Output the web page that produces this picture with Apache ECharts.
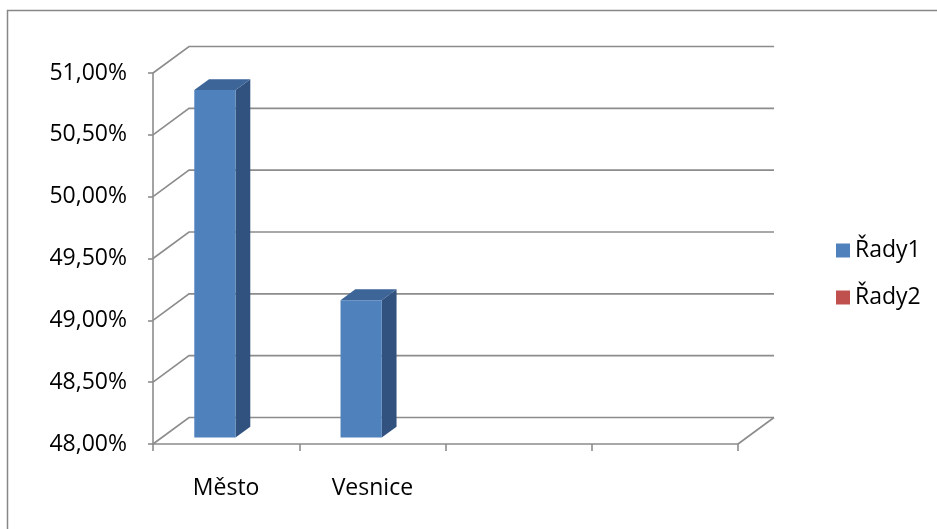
<!DOCTYPE html>
<html>
<head>
<meta charset="utf-8">
<script src="https://cdn.jsdelivr.net/npm/echarts@6/dist/echarts.min.js"></script>
<style>
  html, body { margin: 0; padding: 0; background: #fff; }
  #chart { width: 937px; height: 529px; }
</style>
</head>
<body>
<div id="chart"></div>
<script>
// Categories along the floor (two slots stay empty)
var categories = ['Město', 'Vesnice', '', ''];
// Series values, in percent
var rady1 = [50.81, 49.11];
var rady2 = [];
// Value axis ticks
var yTicks = [48, 48.5, 49, 49.5, 50, 50.5, 51];
var seriesNames = ['Řady1', 'Řady2'];

// Oblique depth of the 3D box and placement of a bar inside its slot
var DEPTH = { dx: 36, dy: -26.5 };
var BAR = { offset: 0.222, width: 0.282, front: 0.245, back: 0.655 };
var GRID_COLOR = '#8c8c8c';
var FONT = 'Open Sans';
var FONT_SIZE = 23;

function fmtPct(v) {
  return v.toFixed(2).replace('.', ',') + '%';
}

// Back wall and floor lines for each tick value
function renderWalls(params, api) {
  var cs = params.coordSys;
  var x0 = cs.x, x1 = cs.x + cs.width;
  var v = api.value(0);
  var y = api.coord([0, v])[1];
  var children = [{
    type: 'polyline',
    shape: { points: [[x0, y], [x0 + DEPTH.dx, y + DEPTH.dy], [x1 + DEPTH.dx, y + DEPTH.dy]] },
    style: { stroke: GRID_COLOR, lineWidth: 1.6, fill: null }
  }];
  if (v === yTicks[0]) {
    children.push({
      type: 'line',
      shape: { x1: x1, y1: y, x2: x1 + DEPTH.dx, y2: y + DEPTH.dy },
      style: { stroke: GRID_COLOR, lineWidth: 1.6 }
    });
  }
  return { type: 'group', children: children };
}

// 3D column: front face, top and right side
function renderColumn(params, api) {
  var idx = api.value(0);
  var top = api.coord([idx, api.value(1)]);
  var base = api.coord([idx, yTicks[0]]);
  var bw = api.size([1, 0])[0];
  var left = top[0] - bw / 2 + BAR.offset * bw;
  var right = left + BAR.width * bw;
  var fx = DEPTH.dx * BAR.front, fy = DEPTH.dy * BAR.front;
  var bx = DEPTH.dx * BAR.back, by = DEPTH.dy * BAR.back;
  var yT = top[1], yB = base[1];
  return {
    type: 'group',
    children: [
      {
        type: 'polygon',
        shape: { points: [[right + fx, yT + fy], [right + bx, yT + by], [right + bx, yB + by], [right + fx, yB + fy]] },
        style: { fill: '#31527f' }
      },
      {
        type: 'polygon',
        shape: { points: [[left + fx, yT + fy], [left + bx, yT + by], [right + bx, yT + by], [right + fx, yT + fy]] },
        style: { fill: '#3d6598' }
      },
      {
        type: 'rect',
        shape: { x: left + fx, y: yT + fy, width: right - left, height: yB - yT },
        style: { fill: '#4f81bd' }
      }
    ]
  };
}

var chart = echarts.init(document.getElementById('chart'));
chart.setOption({
  animation: false,
  backgroundColor: '#ffffff',
  textStyle: { fontFamily: FONT },
  graphic: [{
    type: 'rect',
    shape: { x: 7.5, y: 10.5, width: 960, height: 560 },
    style: { fill: null, stroke: '#878787', lineWidth: 1.5 },
    silent: true
  }],
  grid: { left: 153, right: 199, top: 73, bottom: 85 },
  legend: {
    data: seriesNames,
    orient: 'vertical',
    left: 831,
    top: 234,
    itemWidth: 14,
    itemHeight: 14,
    itemGap: 24,
    icon: 'rect',
    textStyle: { fontSize: FONT_SIZE, color: '#000', fontFamily: FONT }
  },
  xAxis: {
    type: 'category',
    data: categories,
    axisLine: { lineStyle: { color: GRID_COLOR, width: 1.6 } },
    axisTick: { show: true, length: 7, lineStyle: { color: GRID_COLOR, width: 1.6 } },
    axisLabel: { fontSize: FONT_SIZE, color: '#000', margin: 33, fontFamily: FONT },
    splitLine: { show: false }
  },
  yAxis: {
    type: 'value',
    min: 48,
    max: 51,
    interval: 0.5,
    axisLine: { show: true, lineStyle: { color: GRID_COLOR, width: 1.6 } },
    axisTick: { show: true, length: 5, lineStyle: { color: GRID_COLOR, width: 1.6 } },
    axisLabel: {
      fontSize: FONT_SIZE, color: '#000', margin: 26, fontFamily: FONT,
      padding: [7, 0, 0, 0], formatter: fmtPct
    },
    splitLine: { show: false }
  },
  series: [
    {
      name: 'walls',
      type: 'custom',
      renderItem: renderWalls,
      data: yTicks.map(function (v) { return [v]; }),
      encode: { y: 0 },
      silent: true,
      z: 1
    },
    {
      name: seriesNames[0],
      type: 'custom',
      renderItem: renderColumn,
      itemStyle: { color: '#4f81bd' },
      data: rady1.map(function (v, i) { return [i, v]; }),
      encode: { x: 0, y: 1 },
      z: 3
    },
    {
      name: seriesNames[1],
      type: 'custom',
      renderItem: renderColumn,
      itemStyle: { color: '#c0504d' },
      data: rady2.map(function (v, i) { return [i, v]; }),
      encode: { x: 0, y: 1 },
      z: 3
    }
  ]
});
</script>
</body>
</html>
